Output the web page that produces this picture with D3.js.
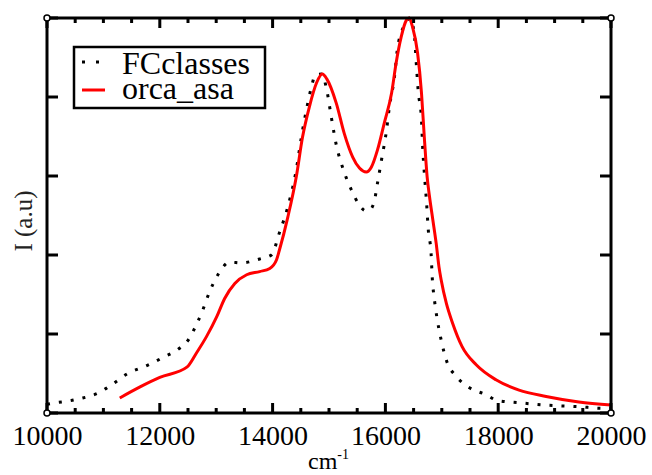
<!DOCTYPE html>
<html>
<head>
<meta charset="utf-8">
<script src="https://cdn.jsdelivr.net/npm/d3@7"></script>
<style>
  html, body { margin: 0; padding: 0; background: #fff; }
  svg { display: block; }
  svg text { font-family: "Liberation Serif", "Times New Roman", Times, "DejaVu Serif", serif !important; fill: #000; }
</style>
</head>
<body>
<svg id="chart" width="652" height="475"></svg>
<script>
// ---- data ----
const xTicks = [10000, 12000, 14000, 16000, 18000, 20000];
const xMinorTicks = d3.range(10000, 20001, 500);
const yTicks = [0, 1, 2, 3, 4, 5];

const fcX = [10000,10160,10370,10570,10900,11170,11430,11770,12050,12350,12500,12650,12760,12880,13030,13240,13450,13770,13980,14120,14270,14420,14510,14600,14690,14760,14870,14960,15040,15130,15240,15400,15540,15650,15720,15800,15860,15930,16020,16070,16160,16210,16300,16390,16430,16510,16550,16580,16640,16660,16690,16730,16760,16810,16830,16870,16920,16990,17080,17260,17490,17790,17980,18370,18850,19430,19840,20000];
const fcY = [0.11,0.13,0.15,0.18,0.25,0.37,0.50,0.60,0.70,0.82,0.92,1.12,1.30,1.53,1.75,1.91,1.90,1.95,2.00,2.28,2.61,3.08,3.49,3.84,4.13,4.28,4.29,4.09,3.75,3.39,3.11,2.82,2.63,2.56,2.57,2.67,2.91,3.20,3.58,3.87,4.25,4.59,4.85,4.97,5.00,4.81,4.40,4.09,3.71,3.37,3.04,2.66,2.32,2.02,1.72,1.43,1.18,0.92,0.67,0.46,0.32,0.23,0.16,0.13,0.10,0.08,0.06,0.06];

const orcaX = [11290,11650,12000,12480,12650,12830,13010,13150,13330,13540,13770,13950,14070,14120,14270,14420,14530,14650,14780,14880,14960,15130,15270,15420,15540,15660,15750,15860,15980,16110,16190,16280,16370,16420,16480,16570,16640,16690,16740,16780,16840,16900,16950,16990,17080,17190,17360,17610,17960,18370,18850,19430,20000];
const orcaY = [0.19,0.33,0.45,0.58,0.76,0.97,1.22,1.45,1.64,1.75,1.79,1.83,1.94,2.06,2.48,2.99,3.49,3.87,4.18,4.29,4.23,3.92,3.54,3.24,3.10,3.05,3.11,3.33,3.67,4.05,4.43,4.76,4.97,5.00,4.89,4.56,4.05,3.49,2.99,2.75,2.45,2.15,1.85,1.68,1.39,1.14,0.84,0.61,0.42,0.29,0.21,0.14,0.10];

const seriesNames = ["FCclasses", "orca_asa"];

// ---- layout ----
const svg = d3.select("#chart");
const L = 47, R = 611, T = 18, B = 413;
const x = d3.scaleLinear().domain([10000, 20000]).range([L, R]);
const y = d3.scaleLinear().domain([0, 5]).range([B, T]);
const SERIF = '"Liberation Serif", "Times New Roman", Times, serif';

svg.append("rect").attr("width", 652).attr("height", 475).attr("fill", "#fff");

const line = d3.line().x(d => x(d[0])).y(d => y(d[1])).curve(d3.curveMonotoneX);

// FCclasses dotted
svg.append("path")
  .datum(d3.zip(fcX, fcY))
  .attr("d", line)
  .attr("fill", "none")
  .attr("stroke", "#000")
  .attr("stroke-width", 3)
  .attr("stroke-dasharray", "3 9");

// orca_asa red
svg.append("path")
  .datum(d3.zip(orcaX, orcaY))
  .attr("d", line)
  .attr("fill", "none")
  .attr("stroke", "#ff0000")
  .attr("stroke-width", 3);

// ---- axes ----
const bottomAxis = d3.axisBottom(x).tickValues(xTicks).tickSize(0).tickPadding(12).tickFormat(d3.format("d"));
const gB = svg.append("g").attr("transform", `translate(0,${B})`).call(bottomAxis);
gB.attr("font-family", null);
gB.select(".domain").remove();
gB.selectAll("text").attr("font-size", 28).style("font-family", SERIF).attr("dy", "0.72em");

// ticks (inward)
const tickG = svg.append("g").attr("stroke", "#000").attr("stroke-width", 3);
xMinorTicks.forEach(v => {
  const major = xTicks.includes(v);
  const len = major ? 10 : 5;
  tickG.append("line").attr("x1", x(v)).attr("x2", x(v)).attr("y1", B).attr("y2", B - len);
  tickG.append("line").attr("x1", x(v)).attr("x2", x(v)).attr("y1", T).attr("y2", T + len);
});
yTicks.forEach(v => {
  tickG.append("line").attr("x1", L).attr("x2", L + 11).attr("y1", y(v)).attr("y2", y(v));
  tickG.append("line").attr("x1", R).attr("x2", R - 11).attr("y1", y(v)).attr("y2", y(v));
});

// frame
svg.append("rect").attr("x", L).attr("y", T).attr("width", R - L).attr("height", B - T)
  .attr("fill", "none").attr("stroke", "#000").attr("stroke-width", 3);

// corner markers
[[L, T], [R, T], [L, B], [R, B]].forEach(p => {
  svg.append("circle").attr("cx", p[0]).attr("cy", p[1]).attr("r", 3)
    .attr("fill", "#fff").attr("stroke", "#000").attr("stroke-width", 1.5);
});

// axis labels
const xl = svg.append("text").attr("x", 308).attr("y", 469).attr("font-size", 24).style("font-family", SERIF);
xl.append("tspan").text("cm");
xl.append("tspan").attr("font-size", 14).attr("dy", -10).text("-1");

svg.append("text")
  .attr("transform", "translate(32,221) rotate(-90)")
  .attr("text-anchor", "middle")
  .attr("font-size", 25)
  .style("font-family", SERIF)
  .style("fill", "#222")
  .text("I (a.u)");

// legend
const lg = svg.append("g");
lg.append("rect").attr("x", 74).attr("y", 47).attr("width", 191).attr("height", 61)
  .attr("fill", "#fff").attr("stroke", "#000").attr("stroke-width", 2.5);
lg.append("line").attr("x1", 82).attr("x2", 99).attr("y1", 62).attr("y2", 62)
  .attr("stroke", "#000").attr("stroke-width", 3).attr("stroke-dasharray", "3 11");
lg.append("line").attr("x1", 82).attr("x2", 105).attr("y1", 90).attr("y2", 90)
  .attr("stroke", "#ff0000").attr("stroke-width", 3);
lg.append("text").attr("x", 122).attr("y", 74).attr("font-size", 32).style("font-family", SERIF).text(seriesNames[0]);
lg.append("text").attr("x", 122).attr("y", 99).attr("font-size", 32).style("font-family", SERIF).text(seriesNames[1]);
</script>
</body>
</html>
